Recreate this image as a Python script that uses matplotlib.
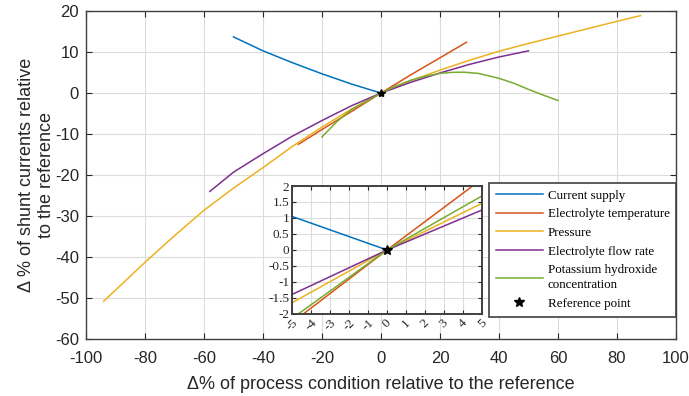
import matplotlib
matplotlib.use("Agg")
import matplotlib.pyplot as plt

plt.rcParams["axes.unicode_minus"] = False

# main curves
cur_x = [-50, -40, -30, -20, -10, 0]
cur_y = [13.7, 10.3, 7.4, 4.7, 2.2, 0]

temp_x = [-28, -20, -10, 0, 10, 20, 29]
temp_y = [-12.5, -8.9, -4.5, 0, 4.4, 8.6, 12.4]

pres_x = [-94, -80, -70, -60, -50, -40, -30, -20, -10, 0,
          10, 20, 30, 40, 50, 60, 70, 80, 88]
pres_y = [-50.8, -41.3, -34.8, -28.6, -23.2, -18.2, -13.0, -8.3, -3.9, 0,
          3.0, 5.6, 8.0, 10.2, 12.1, 13.9, 15.7, 17.5, 18.9]

flow_x = [-58, -50, -40, -30, -20, -10, 0, 10, 20, 30, 40, 50]
flow_y = [-24.0, -19.3, -14.8, -10.5, -6.7, -3.1, 0, 2.6, 4.9, 7.0, 8.8, 10.3]

koh_x = [-20, -15, -10, -5, 0, 5, 10, 15, 20, 24, 28, 33, 40, 45, 50, 55, 60]
koh_y = [-10.7, -7.0, -4.0, -2.1, 0, 1.7, 3.1, 4.1, 4.8, 5.05, 5.1, 4.8,
         3.6, 2.4, 0.9, -0.5, -1.8]

# inset (zoom around the reference point)
in_cur_x = [-5, 0]
in_cur_y = [1.05, 0]
in_x = [-5, 0, 5]
in_temp_y = [-2.27, 0, 2.22]
in_pres_y = [-1.65, 0, 1.46]
in_flow_y = [-1.39, 0, 1.25]
in_koh_y = [-2.14, 0, 1.69]

labels = ["Current supply", "Electrolyte temperature", "Pressure",
          "Electrolyte flow rate", "Potassium hydroxide\nconcentration",
          "Reference point"]
colors = ["#0072BD", "#D95319", "#EDB120", "#7E2F8E", "#77AC30"]

spine_col = "#404040"
lw = 1.1

fig = plt.figure(figsize=(6.89, 3.96), dpi=100)
ax = fig.add_axes([0.1248, 0.144, 0.8563, 0.828])

ax.plot(cur_x, cur_y, color=colors[0], lw=lw)
ax.plot(temp_x, temp_y, color=colors[1], lw=lw)
ax.plot(pres_x, pres_y, color=colors[2], lw=lw)
ax.plot(flow_x, flow_y, color=colors[3], lw=lw)
ax.plot(koh_x, koh_y, color=colors[4], lw=lw)
ax.plot([0], [0], "*", color="black", ms=6)

ax.set_xlim(-100, 100)
ax.set_ylim(-60, 20)
ax.set_xticks(range(-100, 101, 20))
ax.set_yticks(range(-60, 21, 10))
ax.grid(True, color="#dcdcdc", lw=0.8)
ax.set_axisbelow(True)
ax.tick_params(direction="in", top=True, right=True, labelsize=12,
               colors="#262626", length=4)
ax.tick_params(axis="x", pad=9)
ax.tick_params(axis="y", pad=5)
for s in ax.spines.values():
    s.set_color(spine_col)
    s.set_linewidth(1.0)
for t in ax.get_xticklabels() + ax.get_yticklabels():
    t.set_family("Liberation Sans")
ax.set_xlabel("Δ% of process condition relative to the reference",
              fontsize=13, family="Liberation Sans", color="#262626",
              labelpad=7)
ax.set_ylabel("Δ % of shunt currents relative\nto the reference",
              fontsize=13, family="Liberation Sans", color="#262626",
              labelpad=0)

# inset
ins = fig.add_axes([0.4238, 0.2071, 0.2758, 0.3232])
h1, = ins.plot(in_cur_x, in_cur_y, color=colors[0], lw=lw)
h2, = ins.plot(in_x, in_temp_y, color=colors[1], lw=lw)
h3, = ins.plot(in_x, in_pres_y, color=colors[2], lw=lw)
h4, = ins.plot(in_x, in_flow_y, color=colors[3], lw=lw)
h5, = ins.plot(in_x, in_koh_y, color=colors[4], lw=lw)
h6, = ins.plot([0], [0], "*", color="black", ms=7, lw=0)
ins.set_xlim(-5, 5)
ins.set_ylim(-2, 2)
ins.set_xticks(range(-5, 6))
ins.set_yticks([-2, -1.5, -1, -0.5, 0, 0.5, 1, 1.5, 2])
ins.set_yticklabels(["-2", "-1.5", "-1", "-0.5", "0", "0.5", "1", "1.5", "2"])
ins.grid(True, color="#dcdcdc", lw=0.8)
ins.set_axisbelow(True)
ins.tick_params(direction="in", top=True, right=True, labelsize=9.5,
                length=3, pad=2, colors="#262626")
ins.tick_params(axis="x", labelrotation=45)
for t in ins.get_xticklabels() + ins.get_yticklabels():
    t.set_family("Liberation Serif")
for s in ins.spines.values():
    s.set_color(spine_col)
    s.set_linewidth(1.4)

leg = fig.legend([h1, h2, h3, h4, h5, h6], labels, loc="upper left",
                 bbox_to_anchor=(0.7097, 0.5379), fancybox=False,
                 prop={"family": "Liberation Serif", "size": 9.4},
                 handlelength=3.6, handletextpad=0.4, borderpad=0.5,
                 labelspacing=0.5, framealpha=1, borderaxespad=0)
for t in leg.get_texts():
    t.set_linespacing(1.35)
leg.get_frame().set_edgecolor(spine_col)
leg.get_frame().set_linewidth(1.2)

fig.savefig("out.png", dpi=100)
